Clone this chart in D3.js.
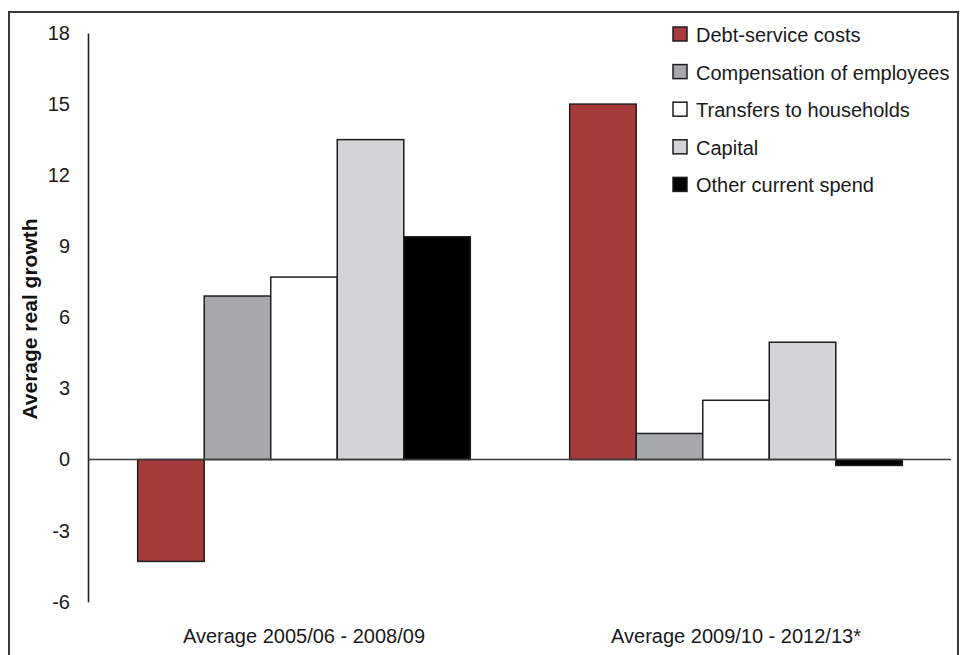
<!DOCTYPE html>
<html>
<head>
<meta charset="utf-8">
<script src="https://cdn.jsdelivr.net/npm/d3@7"></script>
<style>
  html, body { margin: 0; padding: 0; background: #fff; }
  svg { display: block; font-family: "Liberation Sans", Arial, sans-serif; }
</style>
</head>
<body>
<svg id="chart" width="960" height="655"></svg>
<script>
// Periods shown along the x axis
const periods = ["Average 2005/06 - 2008/09", "Average 2009/10 - 2012/13*"];
// Spending components (legend order)
const components = ["Debt-service costs", "Compensation of employees", "Transfers to households", "Capital", "Other current spend"];
const componentColors = ["#a63a3a", "#a7a8ac", "#ffffff", "#d3d4d6", "#000000"];
// Average real growth (%) for each component, one array per period
const growth2005 = [-4.3, 6.9, 7.7, 13.5, 9.4];
const growth2009 = [15.0, 1.1, 2.5, 4.95, -0.25];
// Y axis ticks
const yTicks = [-6, -3, 0, 3, 6, 9, 12, 15, 18];

const seriesByPeriod = [growth2005, growth2009];
const rows = [];
periods.forEach((p, i) => {
  components.forEach((c, j) => rows.push({ period: p, component: c, value: seriesByPeriod[i][j] }));
});

const svg = d3.select("#chart");
const plot = { left: 88, right: 952, top: 33, bottom: 601.7 };

// Outer frame
svg.append("rect")
  .attr("x", 9).attr("y", 12)
  .attr("width", 949).attr("height", 700)
  .attr("fill", "none").attr("stroke", "#3a3a3a").attr("stroke-width", 2);

const y = d3.scaleLinear().domain([-6, 18]).range([plot.bottom, plot.top]);
const x0 = d3.scaleBand().domain(periods).range([plot.left, plot.right])
  .paddingInner(0.23).paddingOuter(0.115);
const x1 = d3.scaleBand().domain(components).range([0, x0.bandwidth()]).padding(0);
const color = d3.scaleOrdinal().domain(components).range(componentColors);

// Y axis: line with labels only, plain hyphen for negatives
const yAxis = d3.axisLeft(y).tickValues(yTicks).tickSize(0).tickPadding(18).tickFormat(d => String(d));
const gy = svg.append("g").attr("transform", `translate(${plot.left},0)`).call(yAxis);
gy.select(".domain").attr("stroke", "#222").attr("stroke-width", 1.6);
gy.selectAll("text")
  .attr("font-size", 20).attr("fill", "#1a1a1a")
  .attr("font-family", "'Liberation Sans', Arial, sans-serif");

// Bars
svg.append("g").selectAll("rect")
  .data(rows)
  .join("rect")
  .attr("x", d => x0(d.period) + x1(d.component))
  .attr("width", x1.bandwidth())
  .attr("y", d => y(Math.max(0, d.value)))
  .attr("height", d => Math.abs(y(d.value) - y(0)))
  .attr("fill", d => color(d.component))
  .attr("stroke", "#1e1e1e")
  .attr("stroke-width", 1.5);

// Zero baseline
svg.append("line")
  .attr("x1", plot.left).attr("x2", plot.right - 1)
  .attr("y1", y(0)).attr("y2", y(0))
  .attr("stroke", "#3c3c3c").attr("stroke-width", 1.6);

// Period labels under the plot
svg.append("g").selectAll("text")
  .data(periods)
  .join("text")
  .attr("x", d => x0(d) + x0.bandwidth() / 2)
  .attr("y", 643)
  .attr("text-anchor", "middle")
  .attr("font-size", 20)
  .attr("fill", "#1a1a1a")
  .text(d => d);

// Y axis title
svg.append("text")
  .attr("transform", "translate(37,319) rotate(-90)")
  .attr("text-anchor", "middle")
  .attr("font-size", 21)
  .attr("font-weight", "bold")
  .attr("fill", "#111")
  .text("Average real growth");

// Legend
const legend = svg.append("g").attr("transform", "translate(673,27)");
const item = legend.selectAll("g")
  .data(components)
  .join("g")
  .attr("transform", (d, i) => `translate(0,${i * 37.6})`);
item.append("rect")
  .attr("width", 14).attr("height", 14)
  .attr("fill", d => color(d))
  .attr("stroke", "#1e1e1e").attr("stroke-width", 1.5);
item.append("text")
  .attr("x", 23).attr("y", 15)
  .attr("font-size", 20)
  .attr("fill", "#1a1a1a")
  .text(d => d);
</script>
</body>
</html>
